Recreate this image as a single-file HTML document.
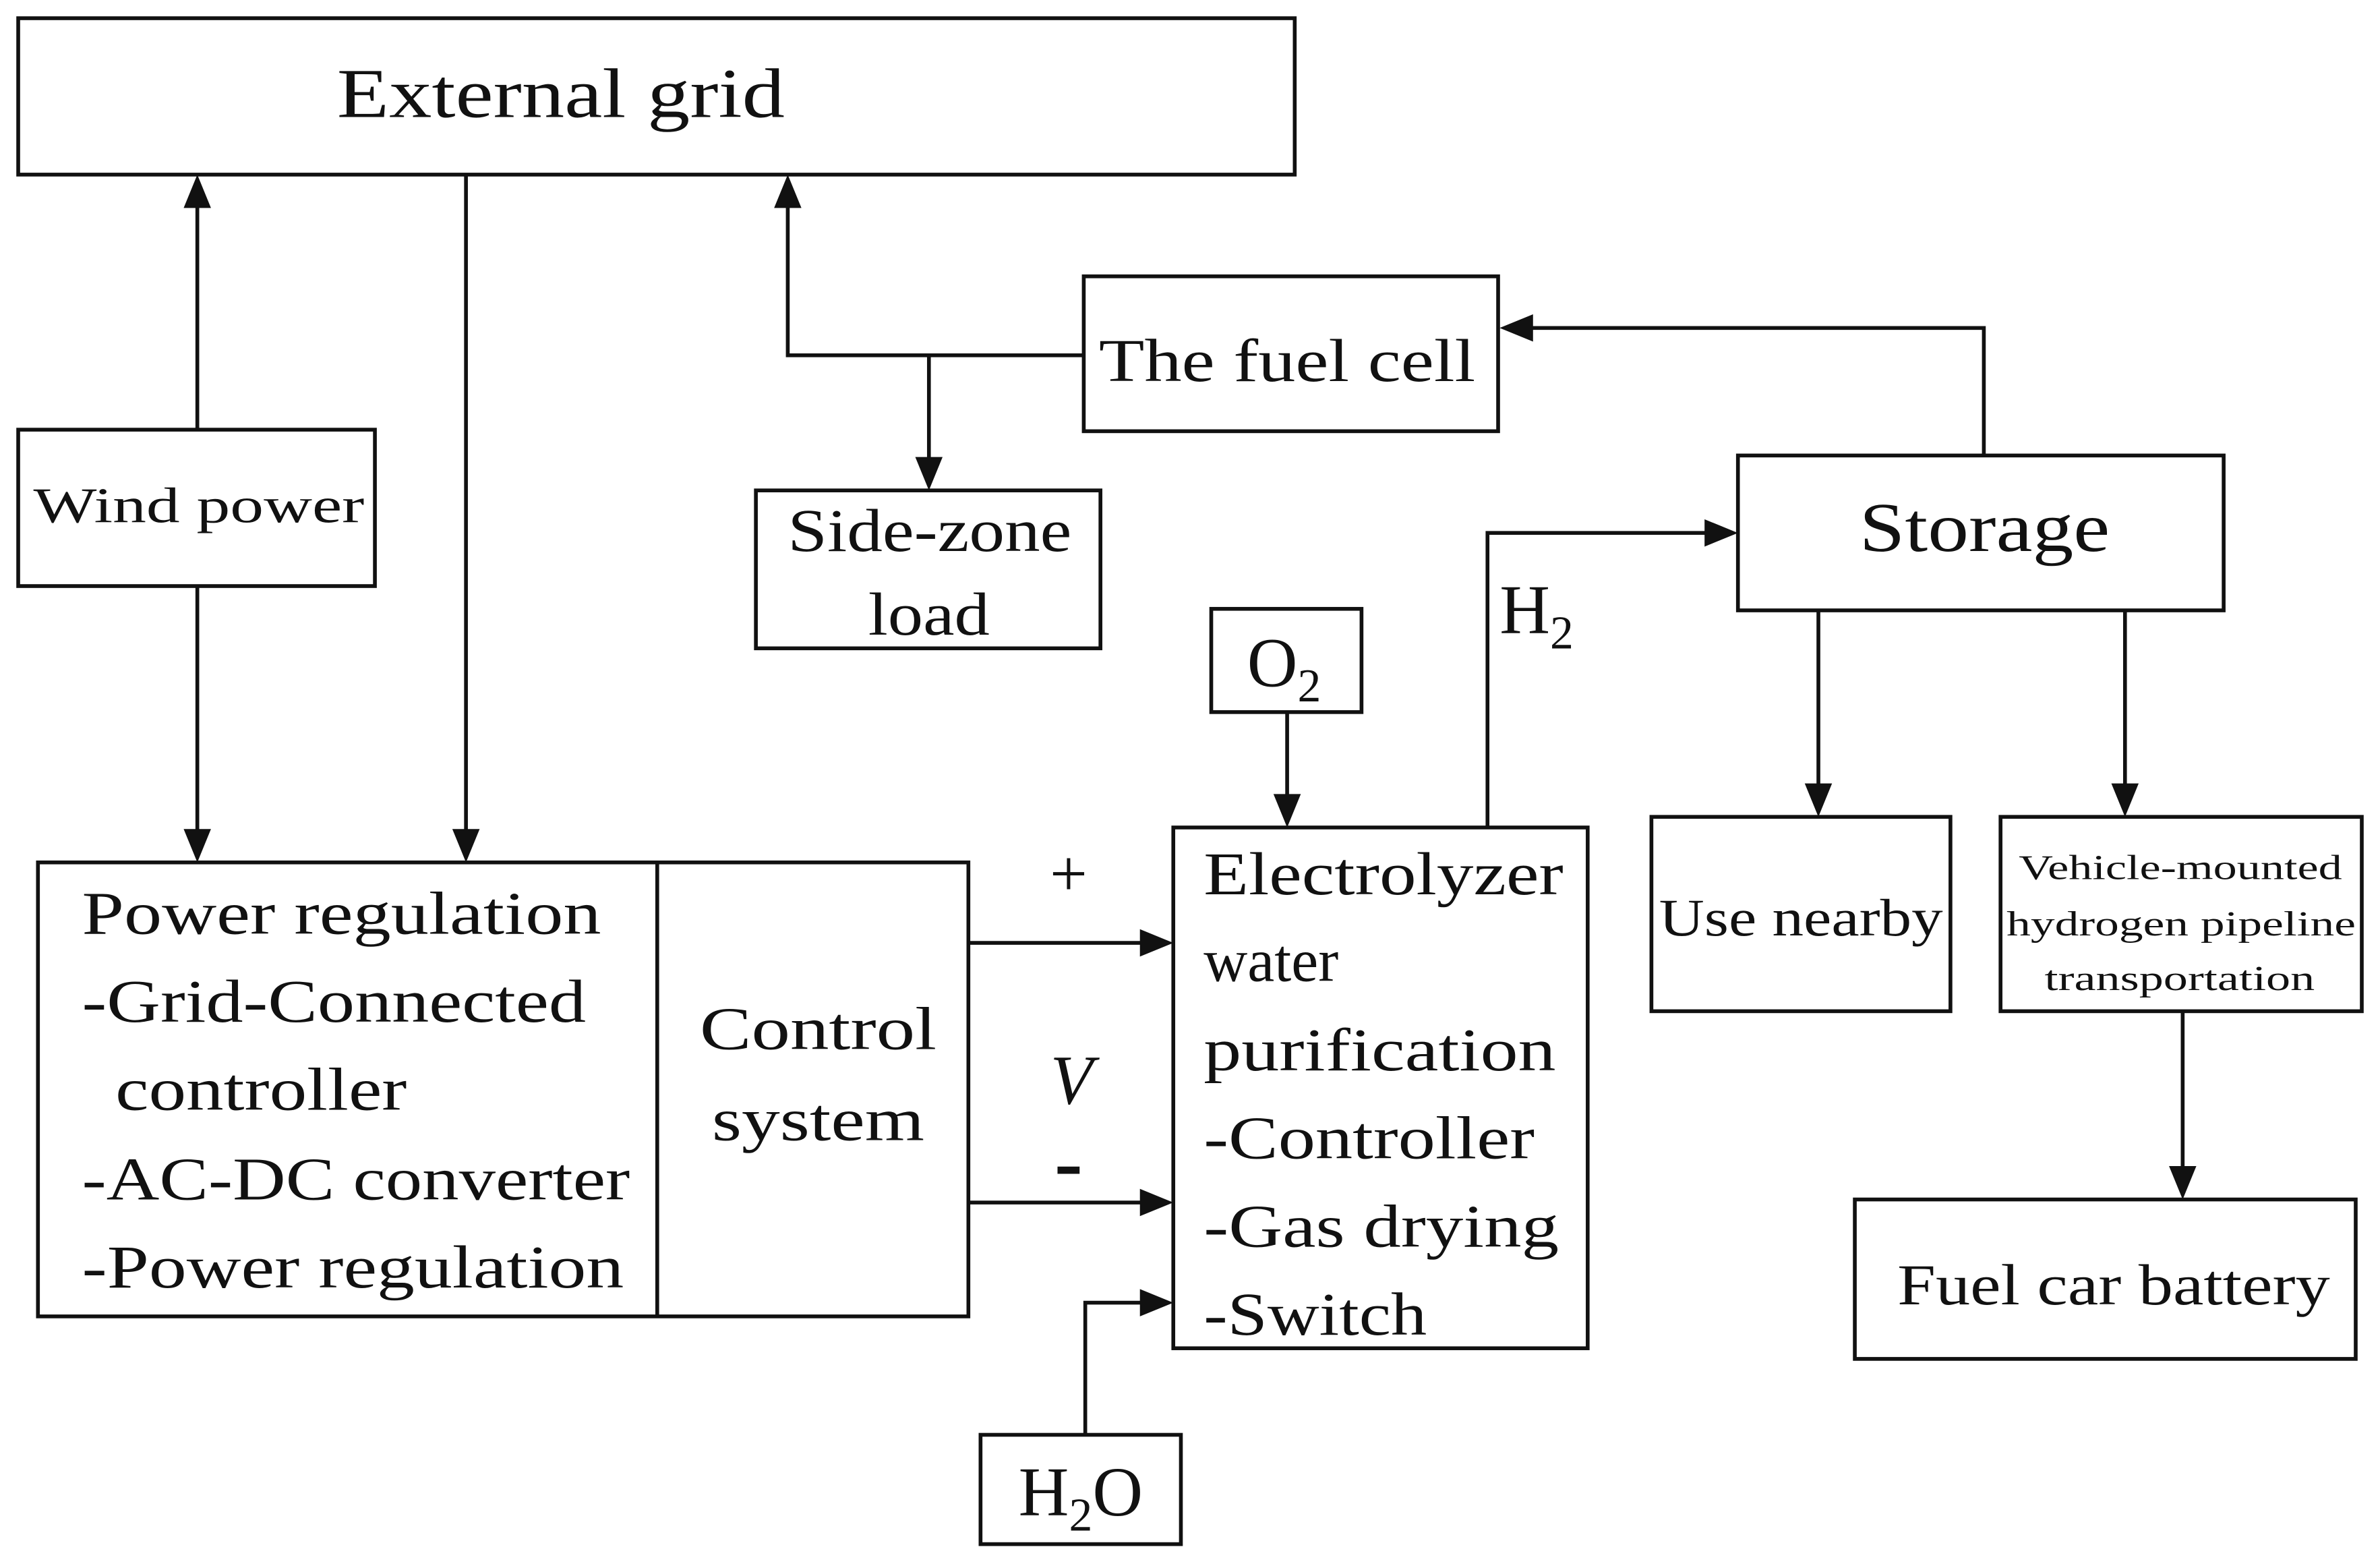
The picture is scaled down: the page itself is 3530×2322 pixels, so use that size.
<!DOCTYPE html>
<html><head><meta charset="utf-8"><style>
html,body{margin:0;padding:0;background:#fff;}
svg{display:block;}
text{font-family:"Liberation Serif",serif;fill:#111;}
</style></head><body>
<svg width="3530" height="2322" viewBox="0 0 1568 1031.4" preserveAspectRatio="none" xmlns="http://www.w3.org/2000/svg">
<rect width="1568" height="1032" fill="#fff"/>
<g fill="none" stroke="#111" stroke-width="2.5">
<rect x="12" y="12" width="841" height="103"/>
<rect x="12" y="283" width="235" height="103"/>
<rect x="25" y="568" width="613" height="299"/>
<line x1="433" y1="568" x2="433" y2="867"/>
<rect x="646" y="945" width="132" height="72"/>
<rect x="773" y="545" width="273" height="343"/>
<rect x="798" y="401" width="99" height="68"/>
<rect x="1145" y="300" width="320" height="102"/>
<rect x="714" y="182" width="273" height="102"/>
<rect x="498" y="323" width="227" height="104"/>
<rect x="1088" y="538" width="197" height="128"/>
<rect x="1318" y="538" width="238" height="128"/>
<rect x="1222" y="790" width="330" height="105"/>
<polyline points="130,283 130,135"/>
<polyline points="130,386 130,548"/>
<polyline points="307,115 307,548"/>
<polyline points="638,621 753,621"/>
<polyline points="638,792 753,792"/>
<polyline points="715,945 715,858 753,858"/>
<polyline points="848,469 848,525"/>
<polyline points="980,545 980,351 1125,351"/>
<polyline points="1307,300 1307,216 1008,216"/>
<polyline points="714,234 519,234 519,135"/>
<polyline points="612,234 612,303"/>
<polyline points="1198,402 1198,518"/>
<polyline points="1400,402 1400,518"/>
<polyline points="1438,666 1438,770"/>
</g>
<g fill="#111">
<polygon points="130,115 121,137 139,137"/>
<polygon points="130,568 121,546 139,546"/>
<polygon points="307,568 298,546 316,546"/>
<polygon points="773,621 751,612 751,630"/>
<polygon points="773,792 751,783 751,801"/>
<polygon points="773,858 751,849 751,867"/>
<polygon points="848,545 839,523 857,523"/>
<polygon points="1145,351 1123,342 1123,360"/>
<polygon points="988,216 1010,207 1010,225"/>
<polygon points="519,115 510,137 528,137"/>
<polygon points="612,323 603,301 621,301"/>
<polygon points="1198,538 1189,516 1207,516"/>
<polygon points="1400,538 1391,516 1409,516"/>
<polygon points="1438,790 1429,768 1447,768"/>
</g>
<text x="222" y="77" font-size="46" textLength="295" lengthAdjust="spacingAndGlyphs">External grid</text>
<text x="22" y="344" font-size="33" textLength="218" lengthAdjust="spacingAndGlyphs">Wind power</text>
<g font-size="40">
<text x="54" y="615" textLength="342" lengthAdjust="spacingAndGlyphs">Power regulation</text>
<text x="54" y="673" textLength="332" lengthAdjust="spacingAndGlyphs">-Grid-Connected</text>
<text x="76" y="731" textLength="192" lengthAdjust="spacingAndGlyphs">controller</text>
<text x="54" y="790" textLength="361" lengthAdjust="spacingAndGlyphs">-AC-DC converter</text>
<text x="54" y="848" textLength="357" lengthAdjust="spacingAndGlyphs">-Power regulation</text>
<text x="461" y="691" textLength="156" lengthAdjust="spacingAndGlyphs">Control</text>
<text x="469" y="751" textLength="140" lengthAdjust="spacingAndGlyphs">system</text>
<text x="793" y="589" textLength="237" lengthAdjust="spacingAndGlyphs">Electrolyzer</text>
<text x="793" y="646">water</text>
<text x="793" y="705" textLength="232" lengthAdjust="spacingAndGlyphs">purification</text>
<text x="793" y="763" textLength="218" lengthAdjust="spacingAndGlyphs">-Controller</text>
<text x="793" y="821" textLength="234" lengthAdjust="spacingAndGlyphs">-Gas drying</text>
<text x="793" y="879" textLength="147" lengthAdjust="spacingAndGlyphs">-Switch</text>
<text x="724" y="251" textLength="248" lengthAdjust="spacingAndGlyphs">The fuel cell</text>
<text x="519" y="363" textLength="187" lengthAdjust="spacingAndGlyphs">Side-zone</text>
<text x="572" y="418" textLength="80" lengthAdjust="spacingAndGlyphs">load</text>
</g>
<text x="1225" y="363" font-size="46" textLength="165" lengthAdjust="spacingAndGlyphs">Storage</text>
<text x="1093" y="616" font-size="35" textLength="187" lengthAdjust="spacingAndGlyphs">Use nearby</text>
<g font-size="23">
<text x="1330" y="579" textLength="213" lengthAdjust="spacingAndGlyphs">Vehicle-mounted</text>
<text x="1322" y="616" textLength="230" lengthAdjust="spacingAndGlyphs">hydrogen pipeline</text>
<text x="1347" y="652" textLength="178" lengthAdjust="spacingAndGlyphs">transportation</text>
</g>
<text x="1250" y="859" font-size="38" textLength="285" lengthAdjust="spacingAndGlyphs">Fuel car battery</text>
<text x="704" y="590" font-size="44" text-anchor="middle">+</text>
<text x="704" y="784" font-size="56" text-anchor="middle" font-weight="bold">-</text>
<text x="706" y="727" font-size="46" text-anchor="middle" font-style="italic">V</text>
<text x="712" y="998" font-size="46" text-anchor="middle">H<tspan font-size="31" dy="10">2</tspan><tspan dy="-10">O</tspan></text>
<text x="846" y="452" font-size="46" text-anchor="middle">O<tspan font-size="31" dy="10">2</tspan></text>
<text x="988" y="417" font-size="46">H<tspan font-size="31" dy="10">2</tspan></text>
</svg>
</body></html>
